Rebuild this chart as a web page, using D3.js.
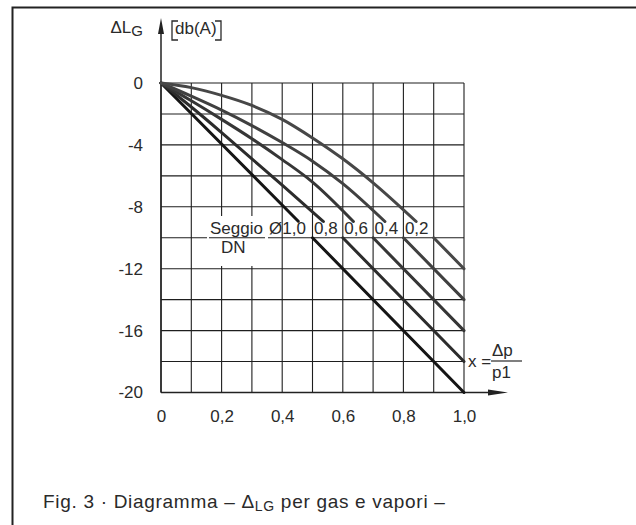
<!DOCTYPE html>
<html>
<head>
<meta charset="utf-8">
<script src="https://cdn.jsdelivr.net/npm/d3@7"></script>
<style>
  html, body { margin: 0; padding: 0; background: #fff; }
  svg { display: block; font-family: "Liberation Sans", Arial, sans-serif; }
</style>
</head>
<body>
<div id="display"></div>
<script>
// tick labels
const xTicks = [0, 0.2, 0.4, 0.6, 0.8, 1.0];
const xTickLabels = ["0", "0,2", "0,4", "0,6", "0,8", "1,0"];
const yTicks = [0, -4, -8, -12, -16, -20];
const yTickLabels = ["0", "-4", "-8", "-12", "-16", "-20"];

// seat diameter / DN ratios
const ratios = ["1,0", "0,8", "0,6", "0,4", "0,2"];
const ratioLabelX = [0.36, 0.505, 0.605, 0.705, 0.805];

// upper part of each curve (x, dL)
const upper10 = [[0, 0], [0.453, -8.93]];
const upper08 = [[0, 0], [0.1, -1.55], [0.2, -3.2], [0.3, -4.9], [0.4, -6.6], [0.536, -8.95]];
const upper06 = [[0, 0], [0.1, -1.15], [0.2, -2.35], [0.3, -3.6], [0.4, -4.95], [0.5, -6.4], [0.635, -8.95]];
const upper04 = [[0, 0], [0.1, -0.85], [0.2, -1.75], [0.3, -2.75], [0.4, -3.85], [0.5, -5.05], [0.6, -6.5], [0.739, -8.95]];
const upper02 = [[0, 0], [0.1, -0.3], [0.2, -0.8], [0.3, -1.45], [0.4, -2.35], [0.5, -3.55], [0.6, -4.9], [0.7, -6.45], [0.842, -8.95]];

// lower straight parts, below the label row
const lower10 = [[0.5, -10], [1.0, -20]];
const lower08 = [[0.6, -10], [1.0, -18]];
const lower06 = [[0.7, -10], [1.0, -16]];
const lower04 = [[0.8, -10], [1.0, -14]];
const lower02 = [[0.9, -10], [1.0, -12]];

const uppers = [upper10, upper08, upper06, upper04, upper02];
const lowers = [lower10, lower08, lower06, lower04, lower02];
const lineColors = ["#151515", "#2c2c2c", "#363636", "#404040", "#474747"];

const width = 636, height = 525;
const svg = d3.select('#display').append('svg')
    .attr('width', width)
    .attr('height', height);

const x = d3.scaleLinear().domain([0, 1]).range([161, 464]);
const y = d3.scaleLinear().domain([-20, 0]).range([392.5, 83]);

// frame
svg.append('path')
    .attr('d', 'M12.5,525 V7.5 H636')
    .attr('fill', 'none')
    .attr('stroke', '#222')
    .attr('stroke-width', 2);

// grid
const grid = svg.append('g').attr('stroke', '#1e1e1e').attr('stroke-width', 1.1);
grid.selectAll('line.v')
    .data(d3.range(0, 11).map(i => i / 10))
    .enter().append('line')
    .attr('class', 'v')
    .attr('x1', d => x(d)).attr('x2', d => x(d))
    .attr('y1', y(0)).attr('y2', y(-20));
grid.selectAll('line.h')
    .data(d3.range(0, 11).map(i => -2 * i))
    .enter().append('line')
    .attr('class', 'h')
    .attr('x1', x(0)).attr('x2', x(1))
    .attr('y1', d => y(d)).attr('y2', d => y(d));

// axes with arrows
svg.append('line')
    .attr('x1', x(0)).attr('x2', x(0))
    .attr('y1', y(-20)).attr('y2', 30)
    .attr('stroke', '#222').attr('stroke-width', 1.5);
svg.append('path')
    .attr('d', `M${x(0)},18 L${x(0) - 3},34 L${x(0) + 3},34 Z`)
    .attr('fill', '#222');
svg.append('line')
    .attr('x1', x(0)).attr('x2', 495)
    .attr('y1', y(-20)).attr('y2', y(-20))
    .attr('stroke', '#222').attr('stroke-width', 1.5);
svg.append('path')
    .attr('d', `M508,${y(-20)} L488,${y(-20) - 3} L488,${y(-20) + 3} Z`)
    .attr('fill', '#222');

// tick labels through d3 axes
const xAxis = svg.append('g')
    .attr('transform', `translate(0,${y(-20)})`)
    .call(d3.axisBottom(x).tickValues(xTicks).tickSize(0).tickPadding(17)
        .tickFormat((d, i) => xTickLabels[i]));
const yAxis = svg.append('g')
    .attr('transform', `translate(${x(0)},0)`)
    .call(d3.axisLeft(y).tickValues(yTicks).tickSize(0).tickPadding(18)
        .tickFormat((d, i) => yTickLabels[i]));
[xAxis, yAxis].forEach(a => {
    a.select('.domain').remove();
    a.selectAll('text')
        .attr('font-family', '"Liberation Sans", Arial, sans-serif')
        .attr('font-size', 17)
        .attr('fill', '#2a2a2a');
});

// curves
const line = d3.line()
    .x(d => x(d[0]))
    .y(d => y(d[1]))
    .curve(d3.curveMonotoneX);
const curves = svg.append('g')
    .attr('fill', 'none')
    .attr('stroke-width', 3)
    .attr('stroke-linecap', 'round');
uppers.forEach((pts, i) => {
    curves.append('path').attr('d', line(pts)).attr('stroke', lineColors[i]);
});
lowers.forEach((pts, i) => {
    curves.append('path').attr('d', line(pts)).attr('stroke', lineColors[i]);
});

// Seggio / DN label
svg.append('rect')
    .attr('x', 207).attr('y', 216)
    .attr('width', 61).attr('height', 50)
    .attr('fill', '#fff');
svg.append('line')
    .attr('x1', 209).attr('x2', 265)
    .attr('y1', y(-10)).attr('y2', y(-10))
    .attr('stroke', '#1e1e1e').attr('stroke-width', 1.1);
svg.append('text').attr('x', 210).attr('y', 234).attr('font-size', 17).attr('fill', '#2a2a2a').text('Seggio');
svg.append('text').attr('x', 221).attr('y', 253).attr('font-size', 17).attr('fill', '#2a2a2a').text('DN');
svg.selectAll('text.ratio')
    .data(ratios)
    .enter().append('text')
    .attr('class', 'ratio')
    .attr('x', (d, i) => x(ratioLabelX[i]) + (i === 0 ? -1 : 0))
    .attr('y', 234)
    .attr('font-size', 17)
    .attr('fill', '#2a2a2a')
    .text((d, i) => i === 0 ? '\u00D8' + d : d);

// y label
const yl = svg.append('text')
    .attr('x', 143).attr('y', 33)
    .attr('text-anchor', 'end')
    .attr('font-size', 17).attr('fill', '#2a2a2a');
yl.append('tspan').text('\u0394L');
yl.append('tspan').attr('font-size', 15).attr('dy', 3).text('G');

// unit [db(A)]
svg.append('path')
    .attr('d', 'M178,21 H172 V40 H178 M215,21 H221 V40 H215')
    .attr('fill', 'none').attr('stroke', '#2a2a2a').attr('stroke-width', 1.3);
svg.append('text')
    .attr('x', 175).attr('y', 34)
    .attr('font-size', 17).attr('fill', '#2a2a2a')
    .text('db(A)');

// x = dp / p1
svg.append('text').attr('x', 468).attr('y', 367).attr('font-size', 17).attr('fill', '#2a2a2a').text('x =');
svg.append('text').attr('x', 492).attr('y', 356).attr('font-size', 17).attr('fill', '#2a2a2a').text('\u0394p');
svg.append('line')
    .attr('x1', 491).attr('x2', 522).attr('y1', 361).attr('y2', 361)
    .attr('stroke', '#2a2a2a').attr('stroke-width', 1.2);
svg.append('text').attr('x', 492).attr('y', 378).attr('font-size', 17).attr('fill', '#2a2a2a').text('p1');

// caption
const cap = svg.append('text')
    .attr('x', 43).attr('y', 508)
    .attr('font-size', 19).attr('letter-spacing', 0.7).attr('fill', '#2a2a2a');
cap.append('tspan').text('Fig. 3 \u00B7 Diagramma \u2013 \u0394');
cap.append('tspan').attr('font-size', 14).attr('dy', 3).text('LG');
cap.append('tspan').attr('dy', -3).text(' per gas e vapori \u2013');
</script>
</body>
</html>
